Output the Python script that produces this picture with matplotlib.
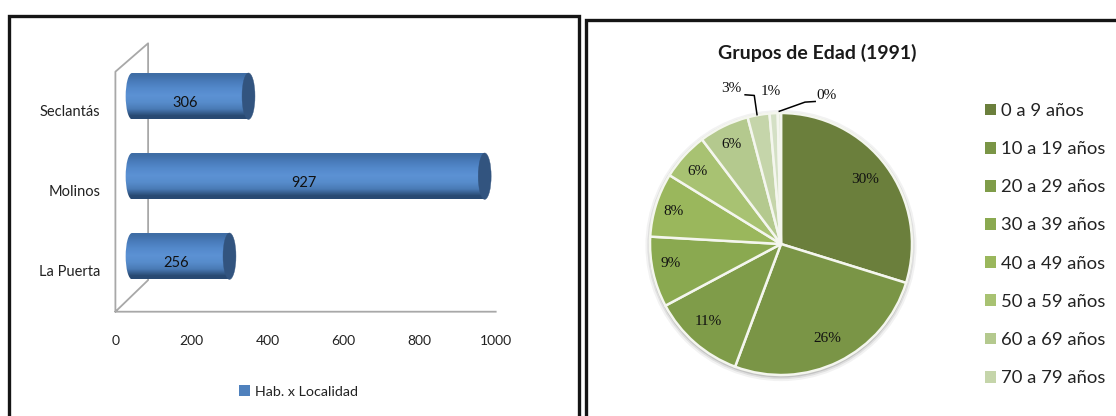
import numpy as np
import matplotlib.pyplot as plt
from matplotlib.patches import Rectangle, Ellipse

W, H = 1116, 416

# bar chart data
localidades = ['La Puerta', 'Molinos', 'Seclantás']
habitantes = [256, 927, 306]
bar_ticks = [0, 200, 400, 600, 800, 1000]

# pie chart data
grupos = ['0 a 9 años', '10 a 19 años', '20 a 29 años', '30 a 39 años',
          '40 a 49 años', '50 a 59 años', '60 a 69 años', '70 a 79 años',
          '80 a 89 años', '90 y más']
porcentajes = [29.8, 25.9, 11.5, 8.7, 7.9, 5.9, 6.2, 2.7, 1.0, 0.4]
etiquetas = ['30%', '26%', '11%', '9%', '8%', '6%', '6%', '3%', '1%', '0%']
verdes = ['#6b7f3c', '#7a9546', '#7f9c49', '#8aa950', '#9ab75c',
          '#a8c272', '#b4c98e', '#c5d5aa', '#d4e0c5', '#e2e9d8']

plt.rcParams['font.family'] = ['Lato', 'DejaVu Sans']


def px_axes(left, top, right, bottom):
    return fig.add_axes([left / W, 1 - bottom / H, (right - left) / W, (bottom - top) / H])


fig = plt.figure(figsize=(W / 100, H / 100), dpi=100, facecolor='white')

# panel frames, they run off the picture like the screenshot
for x0, y0, x1 in [(9, 16, 579), (586, 20, 1130)]:
    fig.add_artist(Rectangle((x0 / W, 1 - 430 / H), (x1 - x0) / W, (430 - y0) / H,
                             transform=fig.transFigure, fill=False,
                             edgecolor='#151515', linewidth=2.4))

# ---- bars ----
ax = px_axes(115.4, 71.7, 495.7, 311.7)
ax.set_axis_off()
depth_x, depth_y = 44, 0.194
cap_w = 34
bar_h = 0.58
wall = '#a8a8a8'
y = np.arange(len(localidades))

ax.plot([1000, 0, 0, 86, 86, 0], [-0.5, -0.5, 2.5, 2.855, -0.105, -0.5],
        color=wall, lw=1.3, zorder=1, clip_on=False)

grad = np.array([[0.25, 0.43, 0.65], [0.29, 0.49, 0.74], [0.33, 0.54, 0.80],
                 [0.36, 0.57, 0.83], [0.34, 0.55, 0.80], [0.29, 0.48, 0.71],
                 [0.16, 0.29, 0.45]]).reshape(7, 1, 3)

bars = ax.barh(y + depth_y, habitantes, height=bar_h, left=depth_x,
               color='#4f81bd', zorder=2, label='Hab. x Localidad')
for b, val in zip(bars, habitantes):
    yc = b.get_y() + bar_h / 2
    ext = [depth_x - cap_w, depth_x + val, yc - bar_h / 2, yc + bar_h / 2]
    left_cap = Ellipse((depth_x, yc), cap_w, bar_h, fc='none', ec='none')
    ax.add_patch(left_cap)
    for clip in (b, left_cap):
        im = ax.imshow(grad, extent=ext, aspect='auto', zorder=3, interpolation='bilinear')
        im.set_clip_path(clip)
    ax.add_patch(Ellipse((depth_x + val, yc), cap_w, bar_h, fc='#32547f', ec='#32547f',
                         lw=0.3, zorder=4))
    ax.text(depth_x + val / 2 - 13, yc - 0.08, str(val), ha='center', va='center',
            fontsize=10.5, color='#111111', zorder=5)

ax.set_xlim(0, 1000)
ax.set_ylim(-0.5, 2.5)
for i, name in zip(y, localidades):
    ax.text(-40, i, name, ha='right', va='center', fontsize=10.5, color='#222222')
for t in bar_ticks:
    ax.text(t, -0.87, str(t), ha='center', va='center', fontsize=10, color='#222222')

leg = ax.legend(handles=[bars], loc='center left', bbox_to_anchor=(226 / W, 1 - 391.7 / H),
                bbox_transform=fig.transFigure, frameon=False, fontsize=10.3,
                handlelength=0.8, handleheight=0.8, handletextpad=0.35, labelcolor='#222222')

# ---- pie ----
R = 131
cx, cy = 781, 244
pax = px_axes(cx - 1.3 * R, cy - 1.3 * R, cx + 1.3 * R, cy + 1.3 * R)
for k, a in [(1.035, 0.05), (1.02, 0.08), (1.008, 0.12)]:
    pax.add_patch(Ellipse((0, -0.012), 2 * k, 2 * k, fc='black', ec='none', alpha=a, zorder=0))
wedges, _ = pax.pie(porcentajes, colors=verdes, startangle=90, counterclock=False, radius=1,
                    wedgeprops={'edgecolor': '#f4f6ee', 'linewidth': 1.8})
pax.set_xlim(-1.3, 1.3)
pax.set_ylim(-1.3, 1.3)

# label spots, in pie radii
spots = [(0.64, 0.49), (0.352, -0.718), (-0.553, -0.592), (-0.846, -0.151), (-0.822, 0.249),
         (-0.634, 0.554), (-0.381, 0.761), (-0.381, 1.184), (-0.078, 1.164), (0.345, 1.134)]
for (sx, sy), txt in zip(spots, etiquetas):
    pax.text(sx, sy, txt, ha='center', va='center', fontsize=11, color='#111111',
             family=['Liberation Serif', 'DejaVu Serif'])
pax.plot([-0.274, -0.204, -0.183], [1.139, 1.134, 0.987], color='black', lw=1.1, clip_on=False)
pax.plot([0.261, 0.183, -0.013], [1.088, 1.083, 1.013], color='black', lw=1.1, clip_on=False)

fig.text(817.6 / W, 1 - 53 / H, 'Grupos de Edad (1991)', ha='center', va='center',
         fontsize=14, fontweight='bold', color='#1a1a1a')

pie_leg = fig.legend(wedges[:8], grupos[:8], loc='upper left', bbox_to_anchor=(985 / W, 1 - 103 / H),
                     frameon=False, fontsize=13.3, handlelength=0.62, handleheight=0.62,
                     handletextpad=0.25, labelspacing=1.2, borderpad=0, borderaxespad=0,
                     labelcolor='#222222')
for p in pie_leg.get_patches():
    p.set_linewidth(0)

fig.savefig('out.png', dpi=100)
